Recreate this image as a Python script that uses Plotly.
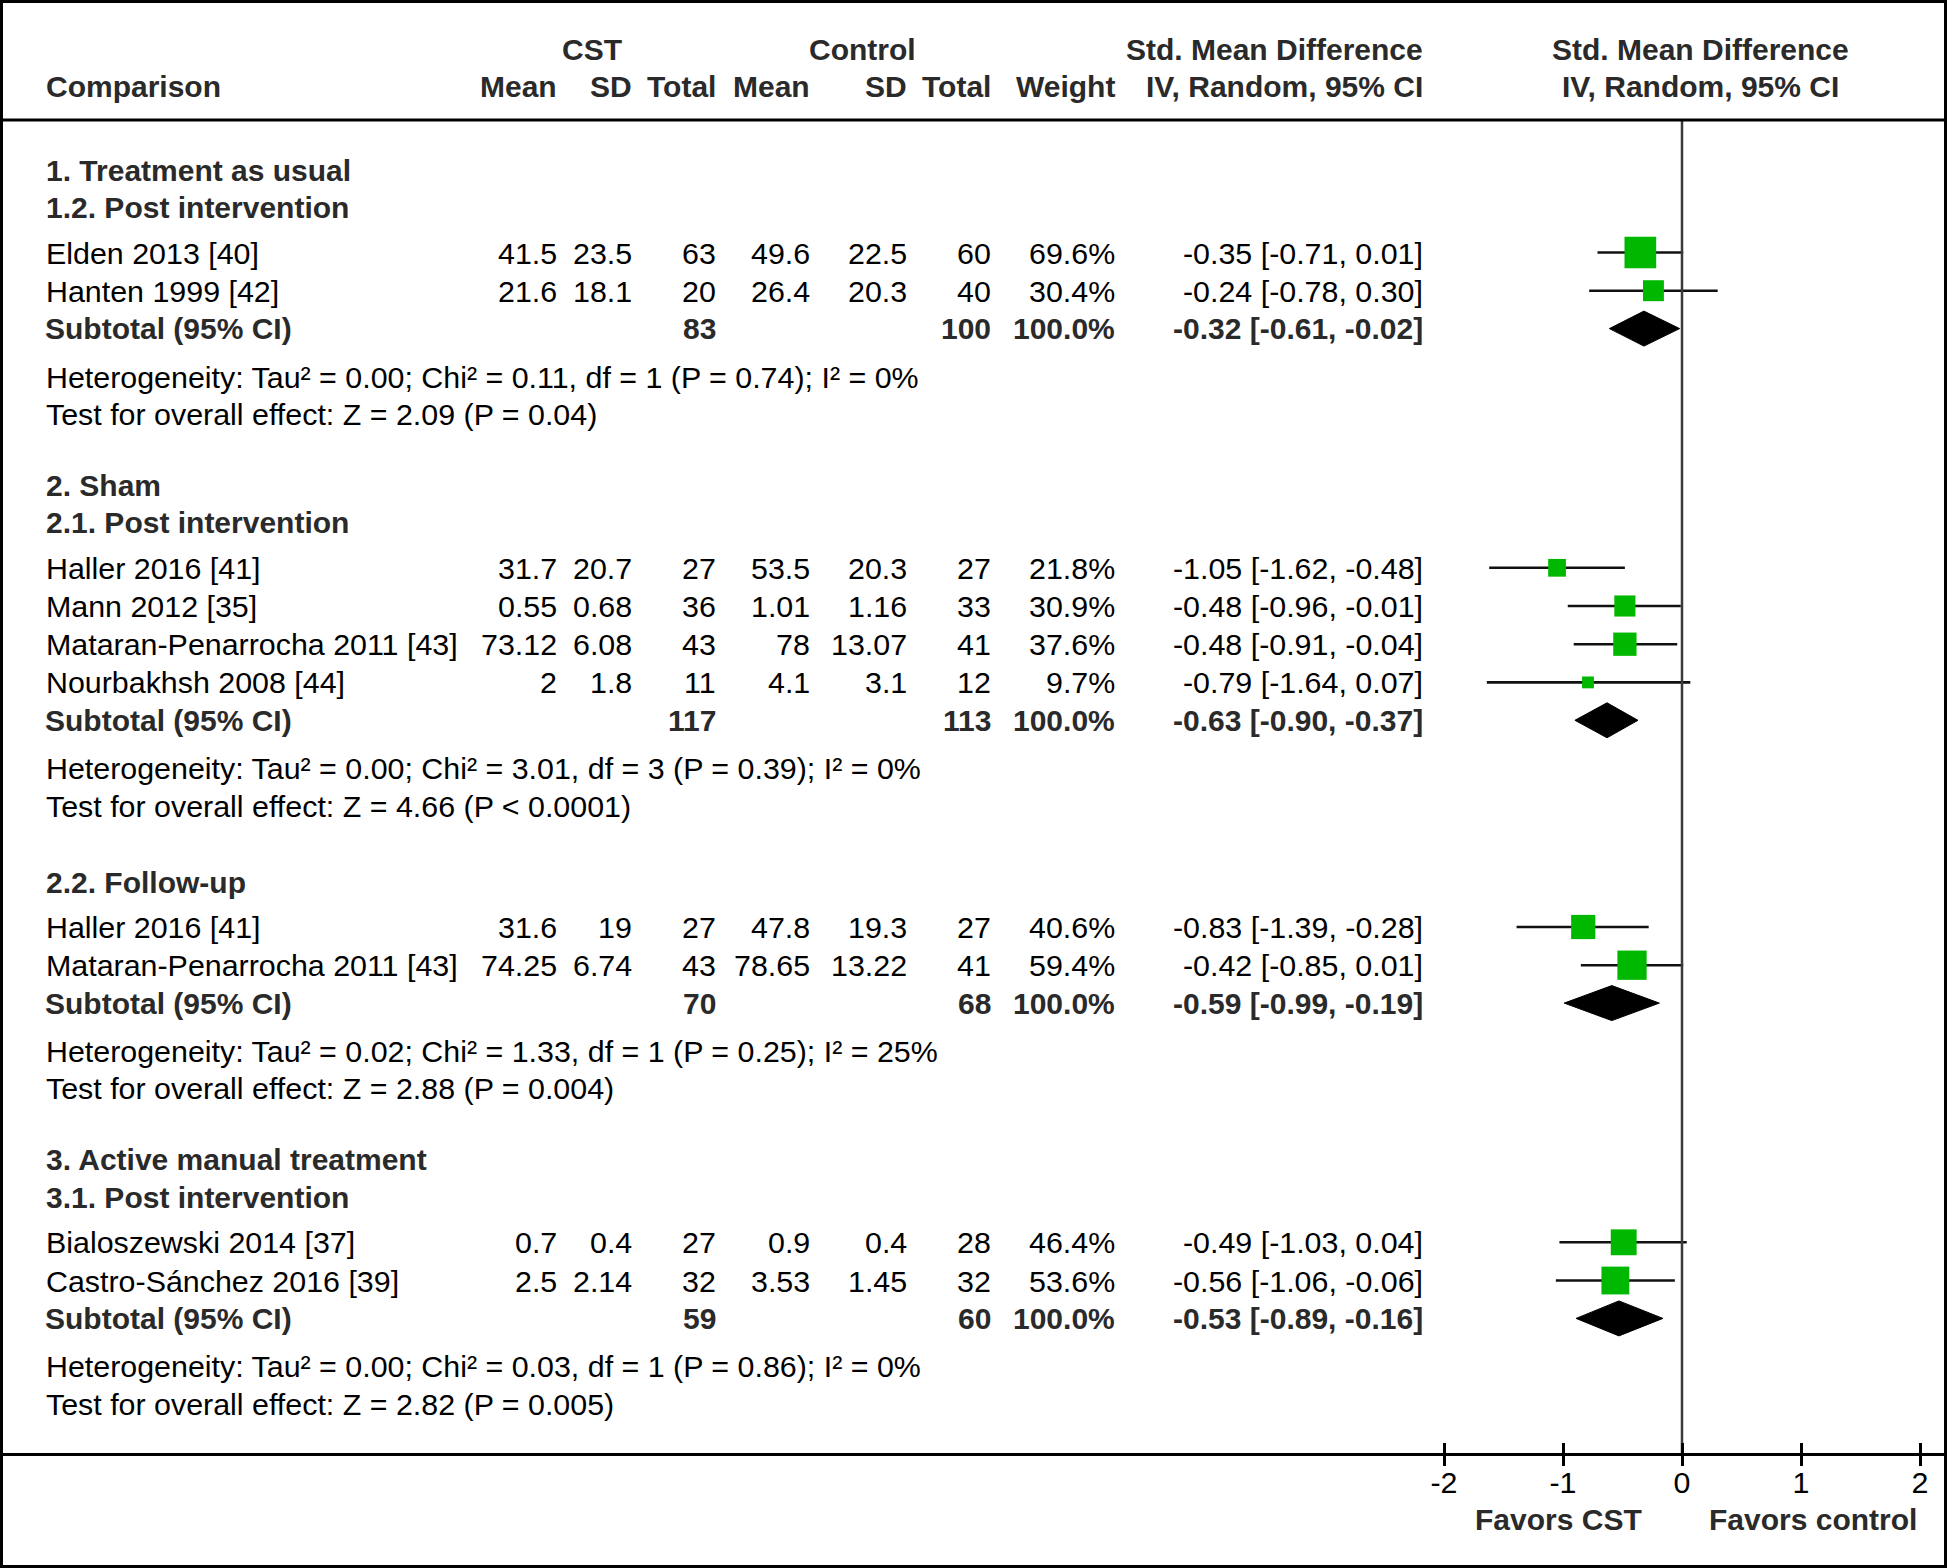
import math
import plotly.graph_objects as go

# ---------------- data ----------------
studies = ["Elden 2013 [40]", "Hanten 1999 [42]",
           "Haller 2016 [41]", "Mann 2012 [35]", "Mataran-Penarrocha 2011 [43]", "Nourbakhsh 2008 [44]",
           "Haller 2016 [41]", "Mataran-Penarrocha 2011 [43]",
           "Bialoszewski 2014 [37]", "Castro-Sánchez 2016 [39]"]
study_group = [0, 0, 1, 1, 1, 1, 2, 2, 3, 3]
cst_mean = [41.5, 21.6, 31.7, 0.55, 73.12, 2, 31.6, 74.25, 0.7, 2.5]
cst_sd = [23.5, 18.1, 20.7, 0.68, 6.08, 1.8, 19, 6.74, 0.4, 2.14]
cst_n = [63, 20, 27, 36, 43, 11, 27, 43, 27, 32]
ctl_mean = [49.6, 26.4, 53.5, 1.01, 78, 4.1, 47.8, 78.65, 0.9, 3.53]
ctl_sd = [22.5, 20.3, 20.3, 1.16, 13.07, 3.1, 19.3, 13.22, 0.4, 1.45]
ctl_n = [60, 40, 27, 33, 41, 12, 27, 41, 28, 32]
weight = [69.6, 30.4, 21.8, 30.9, 37.6, 9.7, 40.6, 59.4, 46.4, 53.6]
smd = [-0.35, -0.24, -1.05, -0.48, -0.48, -0.79, -0.83, -0.42, -0.49, -0.56]
ci_lo = [-0.71, -0.78, -1.62, -0.96, -0.91, -1.64, -1.39, -0.85, -1.03, -1.06]
ci_hi = [0.01, 0.30, -0.48, -0.01, -0.04, 0.07, -0.28, 0.01, 0.04, -0.06]

group_titles = ["1. Treatment as usual", "2. Sham", None, "3. Active manual treatment"]
sub_titles = ["1.2. Post intervention", "2.1. Post intervention", "2.2. Follow-up", "3.1. Post intervention"]
sub_cst_n = [83, 117, 70, 59]
sub_ctl_n = [100, 113, 68, 60]
sub_weight = [100.0, 100.0, 100.0, 100.0]
sub_smd = [-0.32, -0.63, -0.59, -0.53]
sub_lo = [-0.61, -0.90, -0.99, -0.89]
sub_hi = [-0.02, -0.37, -0.19, -0.16]
het_text = ["Heterogeneity: Tau² = 0.00; Chi² = 0.11, df = 1 (P = 0.74); I² = 0%",
            "Heterogeneity: Tau² = 0.00; Chi² = 3.01, df = 3 (P = 0.39); I² = 0%",
            "Heterogeneity: Tau² = 0.02; Chi² = 1.33, df = 1 (P = 0.25); I² = 25%",
            "Heterogeneity: Tau² = 0.00; Chi² = 0.03, df = 1 (P = 0.86); I² = 0%"]
test_text = ["Test for overall effect: Z = 2.09 (P = 0.04)",
             "Test for overall effect: Z = 4.66 (P < 0.0001)",
             "Test for overall effect: Z = 2.88 (P = 0.004)",
             "Test for overall effect: Z = 2.82 (P = 0.005)"]

tick_vals = [-2, -1, 0, 1, 2]
tick_text = ["-2", "-1", "0", "1", "2"]
favors_left = "Favors CST"
favors_right = "Favors control"

# ---------------- layout constants ----------------
W, H = 1947, 1568
FONT = "Liberation Sans, Arial, Helvetica, sans-serif"
FS = 30.4
FSB = 30
BOLD_COLOR = "#2a2a2a"
GREEN = "#00b800"
ZERO_PX = 1682          # pixel of x = 0
UNIT_PX = 119           # pixels per unit
AXIS_Y = 1453           # pixel row of the axis line
HEADER_LINE_Y = 120
LEFT_X = 43.5
COL_X = [559, 634, 718, 812, 909, 993, 1117, 1425]   # right edges of numeric columns
RIGHT_HDR_X = 1700

# vertical rhythm (pixels)
START_Y = 170
STEP_GROUP_TO_SUB = 37.5
STEP_SUB_TO_STUDY = 45
STEP_STUDY = 38.2
STEP_SUBTOTAL = 37.9
STEP_HET = 48
STEP_TEST = 37.2
STEP_NEXT_GROUP = 71.5
STEP_NEXT_SUB = 76.5

x_range = [(0 - ZERO_PX) / UNIT_PX, (W - ZERO_PX) / UNIT_PX]

annotations = []


def esc(s):
    return s.replace("<", "&lt;")


def txt(x, y, s, anchor="left", bold=False, yref="y"):
    s = esc(str(s))
    annotations.append(dict(
        x=x / W, xref="paper", y=y, yref=yref,
        text=f"<b>{s}</b>" if bold else s,
        showarrow=False, xanchor=anchor, yanchor="middle",
        font=dict(family=FONT, size=FSB if bold else FS, color=BOLD_COLOR if bold else "black"),
    ))


def fmt(v):
    return str(v)


# ---------------- header ----------------
txt(592, 49, "CST", "center", True)
txt(862, 49, "Control", "center", True)
txt(COL_X[7], 49, "Std. Mean Difference", "right", True)
txt(RIGHT_HDR_X, 49, "Std. Mean Difference", "center", True)
txt(LEFT_X, 86, "Comparison", "left", True)
for xx, lab in zip(COL_X, ["Mean", "SD", "Total", "Mean", "SD", "Total", "Weight", "IV, Random, 95% CI"]):
    txt(xx, 86, lab, "right", True)
txt(RIGHT_HDR_X, 86, "IV, Random, 95% CI", "center", True)

# ---------------- rows ----------------
study_y = [None] * len(studies)
sub_y = []
y = START_Y
for g in range(len(sub_titles)):
    if group_titles[g] is not None:
        if g > 0:
            y += STEP_NEXT_GROUP
        txt(LEFT_X, y, group_titles[g], "left", True)
        y += STEP_GROUP_TO_SUB
    else:
        y += STEP_NEXT_SUB
    txt(LEFT_X, y, sub_titles[g], "left", True)
    first = True
    for i, sg in enumerate(study_group):
        if sg != g:
            continue
        y += STEP_SUB_TO_STUDY if first else STEP_STUDY
        first = False
        study_y[i] = y
        txt(LEFT_X, y, studies[i])
        vals = [fmt(cst_mean[i]), fmt(cst_sd[i]), fmt(cst_n[i]), fmt(ctl_mean[i]), fmt(ctl_sd[i]),
                fmt(ctl_n[i]), f"{weight[i]:.1f}%", f"{smd[i]:.2f} [{ci_lo[i]:.2f}, {ci_hi[i]:.2f}]"]
        for xx, v in zip(COL_X, vals):
            txt(xx, y, v, "right")
    y += STEP_SUBTOTAL
    sub_y.append(y)
    txt(LEFT_X - 1, y, "Subtotal (95% CI)", "left", True)
    txt(COL_X[2], y, sub_cst_n[g], "right", True)
    txt(COL_X[5], y, sub_ctl_n[g], "right", True)
    txt(COL_X[6], y, f"{sub_weight[g]:.1f}%", "right", True)
    txt(COL_X[7], y, f"{sub_smd[g]:.2f} [{sub_lo[g]:.2f}, {sub_hi[g]:.2f}]", "right", True)
    y += STEP_HET
    txt(LEFT_X, y, het_text[g])
    y += STEP_TEST
    txt(LEFT_X, y, test_text[g])

# favors labels
FAV_Y = 1519
annotations.append(dict(x=(ZERO_PX - 38) / W, xref="paper", y=(H - FAV_Y) / H, yref="paper",
                        text=f"<b>{favors_left}</b>", showarrow=False, xanchor="right", yanchor="middle",
                        font=dict(family=FONT, size=FSB, color=BOLD_COLOR)))
annotations.append(dict(x=(ZERO_PX + 25) / W, xref="paper", y=(H - FAV_Y) / H, yref="paper",
                        text=f"<b>{favors_right}</b>", showarrow=False, xanchor="left", yanchor="middle",
                        font=dict(family=FONT, size=FSB, color=BOLD_COLOR)))

# ---------------- traces ----------------
fig = go.Figure()

# vertical line of no effect (on overlay axis so its inside ticks are drawn)
fig.add_trace(go.Scatter(x=[0, 0], y=[HEADER_LINE_Y, AXIS_Y], mode="lines", xaxis="x2", yaxis="y",
                         line=dict(color="#3a3a3a", width=2.5), hoverinfo="skip", showlegend=False))

# study estimates with CIs
fig.add_trace(go.Scatter(
    x=smd, y=study_y, mode="markers",
    marker=dict(symbol="square", color=GREEN, opacity=1, size=[3.8 * math.sqrt(w) for w in weight],
                line=dict(width=0)),
    error_x=dict(type="data", symmetric=False,
                 array=[h - m for h, m in zip(ci_hi, smd)],
                 arrayminus=[m - l for m, l in zip(smd, ci_lo)],
                 width=0, thickness=2.6, color="#111111"),
    showlegend=False, hoverinfo="skip", cliponaxis=False))

# subtotal diamonds
HALF_H = 17.5
for g in range(len(sub_smd)):
    yc = sub_y[g]
    fig.add_trace(go.Scatter(
        x=[sub_lo[g], sub_smd[g], sub_hi[g], sub_smd[g], sub_lo[g]],
        y=[yc, yc - HALF_H, yc, yc + HALF_H, yc],
        mode="lines", fill="toself", fillcolor="black", line=dict(color="black", width=1),
        showlegend=False, hoverinfo="skip"))

axis_common = dict(range=x_range, tickvals=tick_vals, ticktext=tick_text, showgrid=False, zeroline=False,
                   tickcolor="black", tickwidth=2.5, ticklen=10, domain=[0, 1])

fig.update_layout(
    width=W, height=H,
    margin=dict(l=0, r=0, t=0, b=0),
    paper_bgcolor="white", plot_bgcolor="white",
    font=dict(family=FONT, size=FS, color="black"),
    xaxis=dict(**axis_common, ticks="outside", showline=True, linecolor="black", linewidth=3,
               tickfont=dict(family=FONT, size=FS, color="black"), anchor="y",
               ticklabelstandoff=-9),
    xaxis2=dict(**axis_common, ticks="inside", showline=False, showticklabels=False,
                overlaying="x", anchor="y", side="bottom"),
    yaxis=dict(range=[AXIS_Y, 0], domain=[(H - AXIS_Y) / H, 1], visible=False),
    annotations=annotations,
    shapes=[
        dict(type="line", xref="paper", yref="y", x0=0, x1=1, y0=HEADER_LINE_Y, y1=HEADER_LINE_Y,
             line=dict(color="black", width=3)),
        dict(type="rect", xref="paper", yref="paper", x0=1.5 / W, x1=1 - 1.5 / W, y0=1.5 / H, y1=1 - 1.5 / H,
             line=dict(color="black", width=3)),
    ],
    showlegend=False,
)

fig.write_html("out.html", config={"displayModeBar": False},
               post_script="document.body.style.margin='0';document.body.style.overflow='hidden';")
